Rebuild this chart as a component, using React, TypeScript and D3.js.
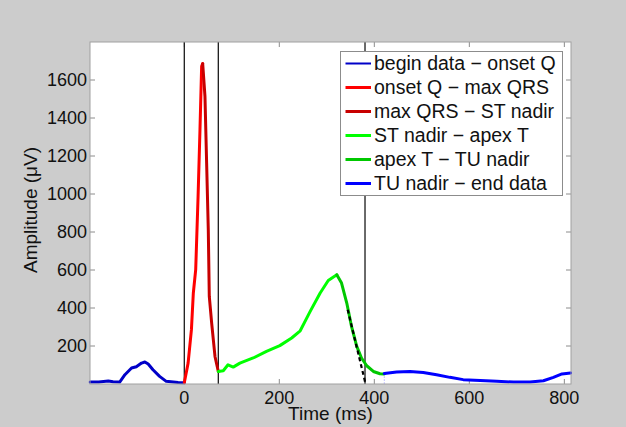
import React, { useEffect, useRef } from "react";
import * as d3 from "d3";

// segments of the averaged beat, [time ms, amplitude uV]
const beginToOnsetQ = [
  [-198, 10], [-180, 10], [-160, 16], [-150, 12], [-136, 10], [-125, 49], [-111, 84],
  [-101, 91], [-90, 110], [-83, 116], [-76, 105], [-66, 75], [-52, 40], [-38, 14],
  [-13, 8], [0, 7],
];
const onsetQToMaxQRS = [
  [0, 7], [8, 110], [15, 286], [19, 479], [24, 602], [29, 987], [33, 1338],
  [36.5, 1672], [38.7, 1686],
];
const maxQRSToSTNadir = [
  [38.7, 1686], [43.5, 1514], [47, 1163], [50.5, 812], [52.6, 461], [57.6, 321],
  [64.6, 145], [71.6, 66],
];
const stNadirToApexT = [
  [71.6, 66], [82, 70], [92, 101], [103, 89], [117, 110], [145, 137], [173, 172],
  [201, 202], [226, 242], [244, 280], [265, 382], [286, 479], [303, 545], [321, 575],
];
const apexTToTUNadir = [
  [321, 575], [331, 531], [342, 426], [352, 303], [363, 198], [373, 137], [384, 96],
  [398, 66], [412, 54], [421, 53],
];
const tuNadirToEnd = [
  [421, 55], [447, 63], [475, 66], [503, 61], [531, 49], [559, 35], [587, 23],
  [623, 19], [658, 14], [693, 10], [728, 10], [756, 17], [777, 35], [795, 53], [813, 58],
];
// tangent on the T wave downslope
const tangent = [[344, 391], [380.5, 12]];
const markerTimes = [0, 71.6, 380.4];

const legendLabels = [
  "begin data − onset Q",
  "onset Q − max QRS",
  "max QRS − ST nadir",
  "ST nadir − apex T",
  "apex T − TU nadir",
  "TU nadir − end data",
];
const segmentColors = ["#0000c8", "#ff0000", "#c80000", "#00ff00", "#00c800", "#0000ff"];
const xTicks = [0, 200, 400, 600, 800];
const yTicks = [200, 400, 600, 800, 1000, 1200, 1400, 1600];

const App = () => {
  const svgRef = useRef<SVGSVGElement>(null);

  useEffect(() => {
    const svg = d3.select(svgRef.current);
    svg.selectAll("*").remove();

    const width = 626;
    const height = 427;
    const margin = { top: 42, right: 55, bottom: 43, left: 90 };
    const font = "'Liberation Sans', Arial, sans-serif";

    svg.append("rect").attr("width", width).attr("height", height).attr("fill", "#cccccc");

    const x = d3.scaleLinear().domain([-198.5, 814]).range([margin.left, width - margin.right]);
    const y = d3.scaleLinear().domain([0, 1800]).range([height - margin.bottom, margin.top]);

    const x0 = margin.left;
    const x1 = width - margin.right;
    const y0 = height - margin.bottom;
    const y1 = margin.top;

    svg
      .append("rect")
      .attr("x", x0)
      .attr("y", y1)
      .attr("width", x1 - x0)
      .attr("height", y0 - y1)
      .attr("fill", "white");

    // ticks inside, on all four sides
    const tickG = svg.append("g").attr("stroke", "#8c8c8c").attr("stroke-width", 1);
    xTicks.forEach((t) => {
      tickG.append("line").attr("x1", x(t)).attr("x2", x(t)).attr("y1", y0).attr("y2", y0 - 5);
      tickG.append("line").attr("x1", x(t)).attr("x2", x(t)).attr("y1", y1).attr("y2", y1 + 5);
    });
    yTicks.forEach((v) => {
      tickG.append("line").attr("x1", x0).attr("x2", x0 + 5).attr("y1", y(v)).attr("y2", y(v));
      tickG.append("line").attr("x1", x1).attr("x2", x1 - 5).attr("y1", y(v)).attr("y2", y(v));
    });

    // marker lines
    markerTimes.forEach((t) => {
      svg
        .append("line")
        .attr("x1", x(t))
        .attr("x2", x(t))
        .attr("y1", y1)
        .attr("y2", y0)
        .attr("stroke", "#1a1a1a")
        .attr("stroke-width", 1.3);
    });
    svg
      .append("line")
      .attr("x1", x(421))
      .attr("x2", x(421))
      .attr("y1", y(55))
      .attr("y2", y0)
      .attr("stroke", "#8888ff")
      .attr("stroke-width", 1)
      .attr("stroke-dasharray", "1,2");

    const line = d3
      .line()
      .x((d) => x(d[0]))
      .y((d) => y(d[1]));

    const segments = [
      beginToOnsetQ,
      onsetQToMaxQRS,
      maxQRSToSTNadir,
      stNadirToApexT,
      apexTToTUNadir,
      tuNadirToEnd,
    ];
    segments.forEach((seg, i) => {
      svg
        .append("path")
        .datum(seg)
        .attr("fill", "none")
        .attr("stroke", segmentColors[i])
        .attr("stroke-width", 3)
        .attr("stroke-linejoin", "round")
        .attr("stroke-linecap", "round")
        .attr("d", line);
    });

    svg
      .append("path")
      .datum(tangent)
      .attr("fill", "none")
      .attr("stroke", "black")
      .attr("stroke-width", 2.2)
      .attr("stroke-dasharray", "4,3")
      .attr("d", line);

    // axes box
    svg
      .append("rect")
      .attr("x", x0)
      .attr("y", y1)
      .attr("width", x1 - x0)
      .attr("height", y0 - y1)
      .attr("fill", "none")
      .attr("stroke", "#a0a0a0")
      .attr("stroke-width", 1);

    // tick labels
    xTicks.forEach((t) => {
      svg
        .append("text")
        .attr("x", x(t))
        .attr("y", 404)
        .attr("text-anchor", "middle")
        .attr("font-family", font)
        .attr("font-size", 18)
        .attr("fill", "#111")
        .text(t);
    });
    yTicks.forEach((v) => {
      svg
        .append("text")
        .attr("x", x0 - 3)
        .attr("y", y(v))
        .attr("dy", "0.35em")
        .attr("text-anchor", "end")
        .attr("font-family", font)
        .attr("font-size", 18)
        .attr("fill", "#111")
        .text(v);
    });

    svg
      .append("text")
      .attr("x", (x0 + x1) / 2)
      .attr("y", 420)
      .attr("text-anchor", "middle")
      .attr("font-family", font)
      .attr("font-size", 19)
      .attr("fill", "#111")
      .text("Time (ms)");

    svg
      .append("text")
      .attr("transform", "translate(37,210) rotate(-90)")
      .attr("text-anchor", "middle")
      .attr("font-family", font)
      .attr("font-size", 19)
      .attr("fill", "#111")
      .text("Amplitude (μV)");

    // legend
    const lg = svg.append("g");
    lg.append("rect")
      .attr("x", 340.5)
      .attr("y", 51.5)
      .attr("width", 222)
      .attr("height", 144)
      .attr("fill", "white")
      .attr("stroke", "#8c8c8c")
      .attr("stroke-width", 1);
    legendLabels.forEach((label, i) => {
      const cy = 63.5 + i * 24;
      lg.append("line")
        .attr("x1", 345.5)
        .attr("x2", 371)
        .attr("y1", cy)
        .attr("y2", cy)
        .attr("stroke", segmentColors[i])
        .attr("stroke-width", i === 0 ? 2 : 3);
      lg.append("text")
        .attr("x", 374)
        .attr("y", cy)
        .attr("dy", "0.35em")
        .attr("font-family", font)
        .attr("font-size", 19.5)
        .attr("fill", "#111")
        .text(label);
    });
  }, []);

  return (
    <svg
      ref={svgRef}
      width={626}
      height={427}
      style={{ position: "absolute", left: 0, top: 0 }}
    ></svg>
  );
};

export default App;
